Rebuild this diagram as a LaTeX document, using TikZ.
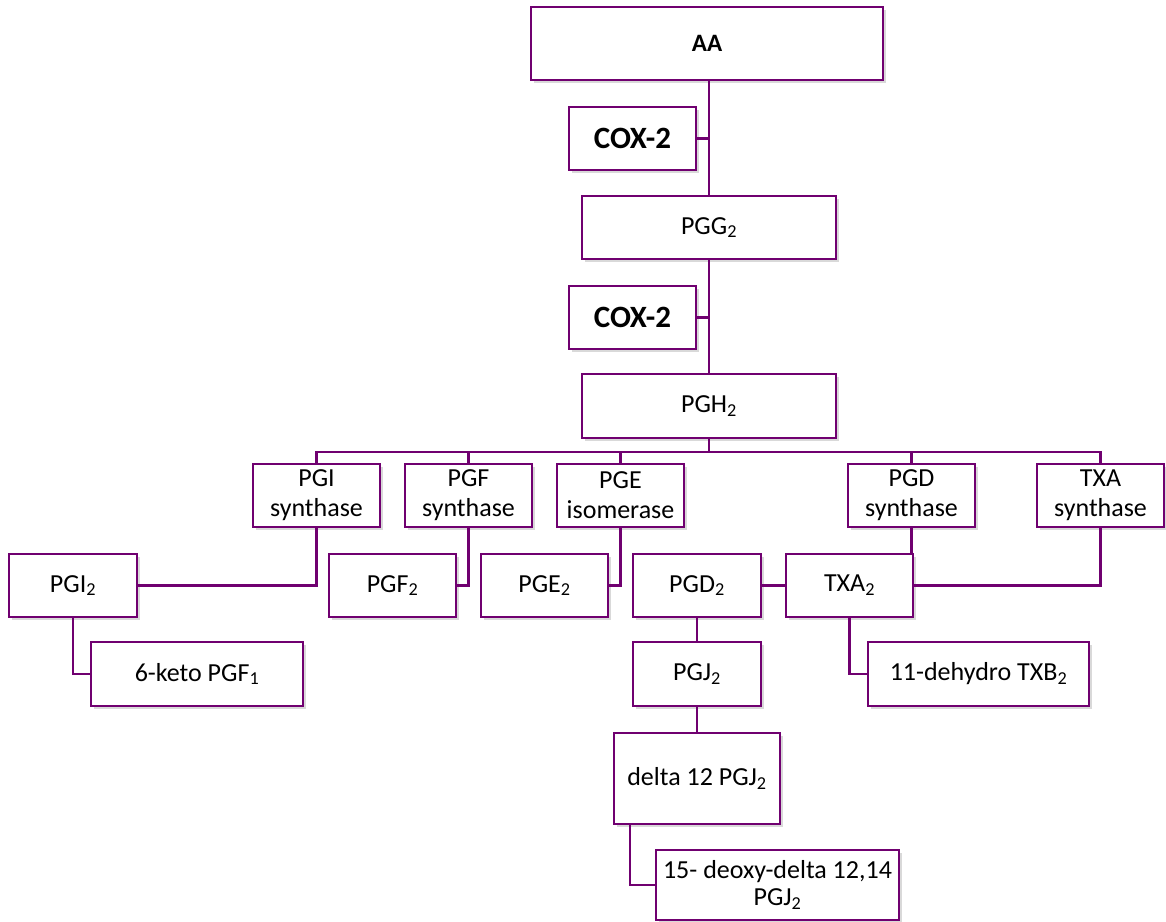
\documentclass[tikz,border=0pt]{standalone}
\usepackage{fontspec}
\setmainfont{Carlito}
\usetikzlibrary{shadows,calc}
\definecolor{plum}{RGB}{112,0,112}
\tikzset{
  box/.style={draw=plum, line width=2.6pt, fill=white, inner sep=0pt, align=center,
    font=\fontsize{26}{30}\selectfont,
    drop shadow={shadow xshift=2.5pt, shadow yshift=-3pt, opacity=0.25, fill=black!60}},
  boldbox/.style={box, font=\fontsize{25}{30}\selectfont\bfseries},
  coxbox/.style={box, font=\fontsize{31}{36}\selectfont\bfseries},
  link/.style={draw=plum, line width=2.2pt}
}
\newcommand{\sub}[1]{\textsubscript{#1}}
\begin{document}
\begin{tikzpicture}[x=1pt,y=-1pt]
\useasboundingbox (0,0) rectangle (1166,921);
\coordinate (bus) at (0,452);
% nodes
\node[boldbox, minimum width=352pt, minimum height=73pt] (AA) at (707,43.5) {AA};
\node[coxbox, minimum width=127pt, minimum height=63pt] (cox1) at (632.5,138.5) {COX-2};
\node[box, minimum width=254pt, minimum height=63pt] (PGG) at (709,227.5) {PGG\sub{2}};
\node[coxbox, minimum width=127pt, minimum height=63pt] (cox2) at (632.5,317.5) {COX-2};
\node[box, minimum width=254pt, minimum height=64pt] (PGH) at (709,406) {PGH\sub{2}};
\node[box, minimum width=127pt, minimum height=63pt] (pgis) at (316.5,495.5) {PGI\\synthase};
\node[box, minimum width=127pt, minimum height=63pt] (pgfs) at (468.5,495.5) {PGF\\synthase};
\node[box, minimum width=127pt, minimum height=63pt] (pgei) at (620.5,495.5) {PGE\\isomerase};
\node[box, minimum width=127pt, minimum height=63pt] (pgds) at (911.5,495.5) {PGD\\synthase};
\node[box, minimum width=127pt, minimum height=63pt] (txas) at (1100.5,495.5) {TXA\\synthase};
\node[box, minimum width=128pt, minimum height=63pt] (pgi2) at (73,585.5) {PGI\sub{2}};
\node[box, minimum width=127pt, minimum height=63pt] (pgf2) at (392.5,585.5) {PGF\sub{2}};
\node[box, minimum width=127pt, minimum height=63pt] (pge2) at (544.5,585.5) {PGE\sub{2}};
\node[box, minimum width=128pt, minimum height=63pt] (pgd2) at (697,585.5) {PGD\sub{2}};
\node[box, minimum width=127pt, minimum height=63pt] (txa2) at (849.5,585.5) {TXA\sub{2}};
\node[box, minimum width=212pt, minimum height=64pt] (keto) at (197,674) {6-keto PGF\sub{1}};
\node[box, minimum width=128pt, minimum height=64pt] (pgj2) at (697,674) {PGJ\sub{2}};
\node[box, minimum width=221pt, minimum height=64pt] (txb2) at (978.5,674) {11-dehydro TXB\sub{2}};
\node[box, minimum width=166pt, minimum height=91pt] (delta) at (697,778.5) {delta 12 PGJ\sub{2}};
\node[box, minimum width=243pt, minimum height=70pt, font=\fontsize{26}{27}\selectfont] (deoxy) at (777.5,885) {15- deoxy-delta 12,14\\PGJ\sub{2}};
% connectors
\draw[link] (PGG.north) -- (PGG.north |- AA.south);
\draw[link] (cox1.east) -- (cox1.east -| PGG.north);
\draw[link] (PGH.north) -- (PGH.north |- PGG.south);
\draw[link] (cox2.east) -- (cox2.east -| PGH.north);
\draw[link] (PGH.south) -- (PGH.south |- bus);
\draw[link] (pgis.north) -- (pgis.north |- bus) -- (txas.north |- bus) -- (txas.north);
\draw[link] (pgfs.north) -- (pgfs.north |- bus);
\draw[link] (pgei.north) -- (pgei.north |- bus);
\draw[link] (pgds.north) -- (pgds.north |- bus);
\draw[link] (pgis.south) |- (pgi2.east);
\draw[link] (pgfs.south) |- (pgf2.east);
\draw[link] (pgei.south) |- (pge2.east);
\draw[link] (pgds.south) -- (pgds.south |- txa2.north);
\draw[link] (txas.south) |- (txa2.east);
\draw[link] (pgd2.east) -- (txa2.west);
\draw[link] (pgi2.south) |- (keto.west);
\draw[link] (pgd2.south) -- (pgj2.north);
\draw[link] (txa2.south) |- (txb2.west);
\draw[link] (pgj2.south) -- (delta.north);
\draw[link] ($(delta.south west)+(17,0)$) |- (deoxy.west);
\end{tikzpicture}
\end{document}
